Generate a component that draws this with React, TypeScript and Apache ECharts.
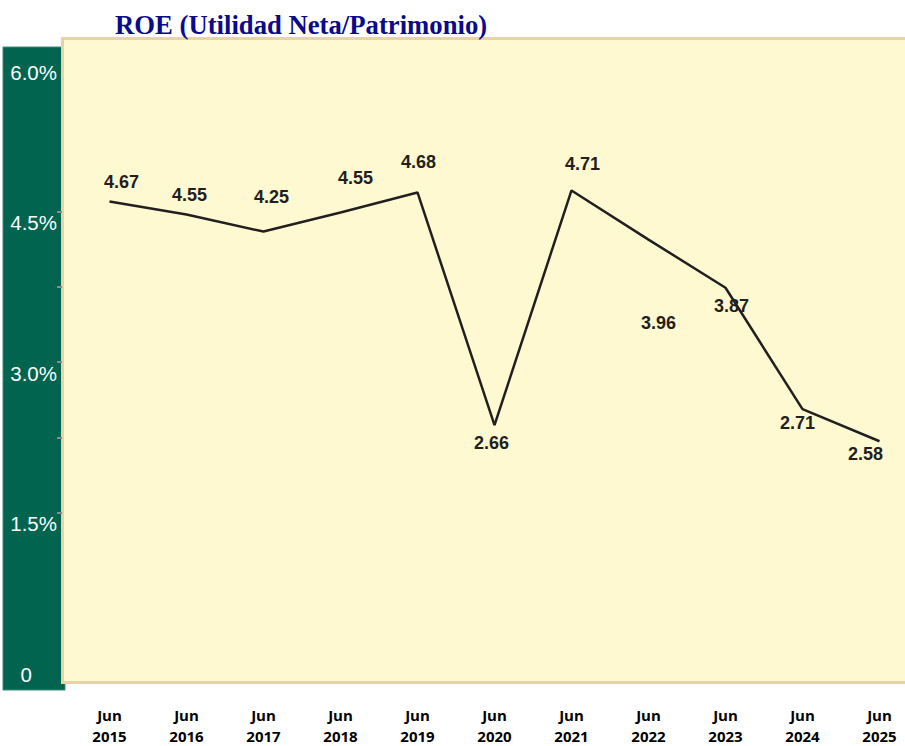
import React, { useEffect, useRef } from "react";
import * as echarts from "echarts";

const categories = [
  "Jun\n2015", "Jun\n2016", "Jun\n2017", "Jun\n2018", "Jun\n2019", "Jun\n2020",
  "Jun\n2021", "Jun\n2022", "Jun\n2023", "Jun\n2024", "Jun\n2025",
];
// values printed as data labels
const labelValues = [4.67, 4.55, 4.25, 4.55, 4.68, 2.66, 4.71, 3.96, 3.87, 2.71, 2.58];
// values traced by the drawn line (as read against the axis)
const lineValues = [4.6, 4.47, 4.3, 4.49, 4.69, 2.37, 4.71, 4.22, 3.74, 2.53, 2.21];
const yTickValues = [1.5, 2.25, 3, 3.75, 4.5];
const yLabelValues = [0, 1.5, 3, 4.5, 6];

// label placement (layout only)
const labelOffsets: [number, number][] = [
  [12, -19], [3, -20], [8, -35], [15, -35], [1, -30], [-3, 18],
  [11, -26], [10, 83], [6, 18], [-5, 14], [-14, 13],
];

export default function App() {
  const ref = useRef<HTMLDivElement>(null);
  useEffect(() => {
    if (!ref.current) return;
    const chart = echarts.init(ref.current, null, { renderer: "svg" });
    chart.setOption({
      animation: false,
      backgroundColor: "#ffffff",
      title: {
        text: "ROE (Utilidad Neta/Patrimonio)",
        left: 110,
        top: 6,
        textStyle: {
          fontFamily: "'Liberation Serif', 'Times New Roman', serif",
          fontWeight: "bold",
          fontSize: 26.7,
          color: "#0a0a8a",
        },
      },
      graphic: [
        {
          type: "rect",
          z: -10,
          shape: { x: 3, y: 47, width: 62, height: 643 },
          style: { fill: "#00644f", stroke: "#3f8a78", lineWidth: 1 },
        },
        {
          type: "rect",
          z: -9,
          shape: { x: 62.5, y: 38.5, width: 860, height: 644 },
          style: { fill: "#fef9d0", stroke: "#e8d3a8", lineWidth: 3 },
        },
      ],
      grid: { left: 71, width: 847, top: 61, height: 605, containLabel: false },
      xAxis: {
        type: "category",
        data: categories,
        boundaryGap: true,
        axisLine: { show: false },
        axisTick: { show: false },
        axisLabel: {
          margin: 41,
          fontFamily: "'Open Sans', 'Noto Sans', sans-serif",
          fontWeight: "bold",
          fontSize: 15,
          lineHeight: 21,
          color: "#000000",
        },
        splitLine: { show: false },
      },
      yAxis: {
        type: "value",
        min: 0,
        max: 6,
        interval: 0.75,
        offset: 9,
        axisLine: { show: false },
        axisTick: {
          show: true,
          length: 5,
          inside: false,
          customValues: yTickValues,
          lineStyle: { color: "#8c8c8c", width: 2 },
        },
        splitLine: { show: false },
        axisLabel: {
          margin: 5,
          customValues: yLabelValues,
          verticalAlign: "top",
          lineHeight: 22,
          fontFamily: "'Liberation Sans', Arial, sans-serif",
          fontSize: 20.5,
          color: "#ffffff",
          formatter: (v: number) => {
            if (Math.abs(v) < 1e-9) return "{z|0}";
            if (Math.abs(v / 1.5 - Math.round(v / 1.5)) > 1e-6) return "";
            return v.toFixed(1) + "%";
          },
          rich: {
            z: {
              fontFamily: "'Liberation Sans', Arial, sans-serif",
              fontSize: 20.5,
              color: "#ffffff",
              lineHeight: 22,
              padding: [0, 25, 0, 0],
            },
          },
        },
      },
      series: [
        {
          type: "line",
          data: lineValues.map((v, i) => ({
            value: v,
            label: { offset: labelOffsets[i] },
          })),
          symbol: "circle",
          symbolSize: 1,
          itemStyle: { color: "transparent" },
          lineStyle: { color: "#231f20", width: 2.5 },
          label: {
            show: true,
            position: "inside",
            formatter: (p: any) => labelValues[p.dataIndex].toFixed(2),
            fontFamily: "'Liberation Sans', Arial, sans-serif",
            fontWeight: "bold",
            fontSize: 18,
            color: "#231f20",
          },
        },
      ],
    });
    return () => chart.dispose();
  }, []);
  return (
    <div
      ref={ref}
      style={{ position: "fixed", left: 0, top: 0, width: 930, height: 746 }}
    />
  );
}
